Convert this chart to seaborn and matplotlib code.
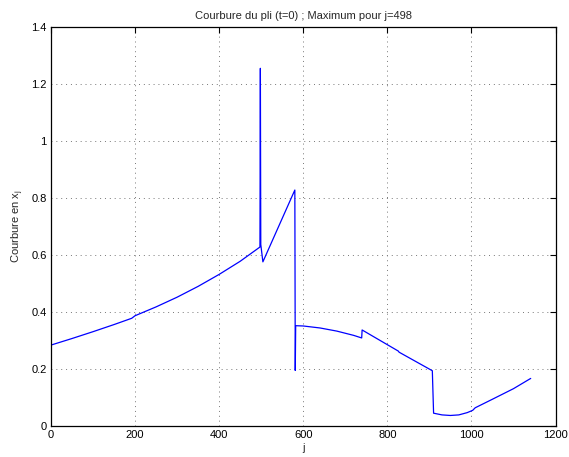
import matplotlib
matplotlib.use("Agg")
import matplotlib.pyplot as plt
import seaborn as sns
import pandas as pd

# Data
j_vals = [0, 50, 100, 150, 192, 200, 250, 300, 350, 400, 450, 497,
          498, 499, 504, 580, 581, 582,
          600, 640, 680, 720, 739, 740, 826, 828, 907, 910,
          930, 950, 970, 990, 1003, 1009, 1050, 1100, 1141]
courbure = [0.284, 0.307, 0.331, 0.356, 0.378, 0.387, 0.418, 0.452, 0.490, 0.532, 0.578, 0.628,
            1.255, 0.637, 0.576, 0.828, 0.195, 0.352,
            0.351, 0.344, 0.333, 0.318, 0.309, 0.337, 0.263, 0.259, 0.194, 0.045,
            0.039, 0.037, 0.039, 0.047, 0.055, 0.064, 0.094, 0.131, 0.167]

title = "Courbure du pli (t=0) ; Maximum pour j=498"
xticks = [0, 200, 400, 600, 800, 1000, 1200]
yticks = [0, 0.2, 0.4, 0.6, 0.8, 1, 1.2, 1.4]
ytick_labels = ["0", "0.2", "0.4", "0.6", "0.8", "1", "1.2", "1.4"]

sns.set_style("white")
plt.rcParams['font.family'] = ['Liberation Sans', 'DejaVu Sans']
plt.rcParams['mathtext.fontset'] = 'custom'
plt.rcParams['mathtext.rm'] = 'Liberation Sans'
plt.rcParams['mathtext.it'] = 'Liberation Sans'

df = pd.DataFrame({"j": j_vals, "c": courbure})

fig = plt.figure(figsize=(5.69, 4.57), dpi=100)
ax = fig.add_axes([0.0896, 0.0678, 0.8867, 0.8731])
sns.lineplot(data=df, x="j", y="c", ax=ax, color=(0, 0, 1), linewidth=0.9,
             sort=False, estimator=None)

ax.set_xlim(0, 1200)
ax.set_ylim(0, 1.4)
ax.set_xticks(xticks)
ax.set_xticklabels([str(t) for t in xticks])
ax.set_yticks(yticks)
ax.set_yticklabels(ytick_labels)
ax.tick_params(direction='in', length=4, width=0.8, top=True, right=True,
               labelsize=8, colors='black', pad=3)
ax.grid(True, linestyle=(0, (1, 4)), color='#777777', linewidth=0.7)
for s in ax.spines.values():
    s.set_visible(True)
    s.set_color('black')
    s.set_linewidth(0.9)

ax.set_title(title, fontsize=8, pad=6)
ax.set_xlabel("j", fontsize=8, labelpad=2)
ax.set_ylabel("Courbure en x$_\\mathregular{j}$", fontsize=8, labelpad=4)

fig.savefig("out.png", dpi=100, facecolor='white')
